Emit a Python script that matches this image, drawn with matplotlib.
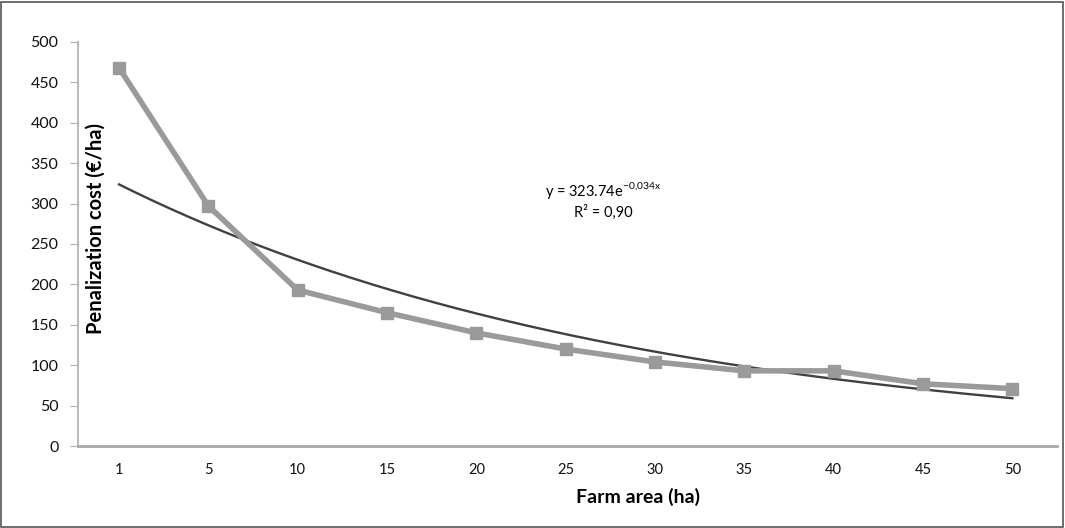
import matplotlib.pyplot as plt
import numpy as np
from matplotlib.patches import Rectangle

# Data
farm_area = [1, 5, 10, 15, 20, 25, 30, 35, 40, 45, 50]
penalization_cost = [468, 297, 193, 165, 140, 120, 104, 93, 93, 77, 71]

# Exponential trendline shown on the chart: y = A * exp(B * x)
trend_a = 323.74
trend_b = -0.034
trend_label = 'y = 323.74e$^{\\mathregular{-0{,}034x}}$\nR² = 0,90'

plt.rcParams['font.family'] = ['Lato', 'DejaVu Sans']

fig = plt.figure(figsize=(10.65, 5.28), dpi=100)
ax = fig.add_axes([0.0732, 0.1553, 0.9193, 0.7652])

positions = np.arange(len(farm_area))

# trendline, drawn across the category axis
x_fit = np.linspace(0, farm_area[-1], 300)
p_fit = x_fit / farm_area[-1] * (len(farm_area) - 1)
ax.plot(p_fit, trend_a * np.exp(trend_b * x_fit), color='#404040', lw=1.7, zorder=2)

# data series
ax.plot(positions, penalization_cost, color='#9a9a9a', lw=4, marker='s',
        markersize=9, markerfacecolor='#9a9a9a', markeredgecolor='#9a9a9a', zorder=3)

ax.set_xlim(-0.46, len(farm_area) - 0.5)
ax.set_ylim(0, 500)
ax.set_yticks(np.arange(0, 501, 50))
ax.set_xticks(positions)
ax.set_xticklabels([str(v) for v in farm_area])

for side in ['top', 'right']:
    ax.spines[side].set_visible(False)
ax.spines['left'].set_color('#b0b0b0')
ax.spines['left'].set_linewidth(1.2)
ax.spines['bottom'].set_color('#a8a8a8')
ax.spines['bottom'].set_linewidth(2)

ax.tick_params(axis='y', length=6, color='#b0b0b0', pad=8, labelsize=11.5, labelcolor='#111111')
ax.tick_params(axis='x', length=0, pad=12, labelsize=10.5, labelcolor='#111111')

fig.text(638 / 1065, 1 - 497 / 528, 'Farm area (ha)', ha='center', va='center',
         fontsize=14, fontweight='bold', color='#000000')
fig.text(96 / 1065, 1 - 229 / 528, 'Penalization cost (€/ha)', ha='center', va='center',
         rotation=90, fontsize=14.5, fontweight='bold', color='#000000')

ax.text(603 / 1065, 1 - 200 / 528, trend_label, transform=fig.transFigure,
        ha='center', va='center', fontsize=10.5, color='#000000', linespacing=1.3)

# frame around the whole picture
fig.patches.append(Rectangle((0.001, 0.002), 0.997, 0.995, transform=fig.transFigure,
                             fill=False, edgecolor='#555555', lw=1.2))

fig.savefig('out.png', dpi=100)
